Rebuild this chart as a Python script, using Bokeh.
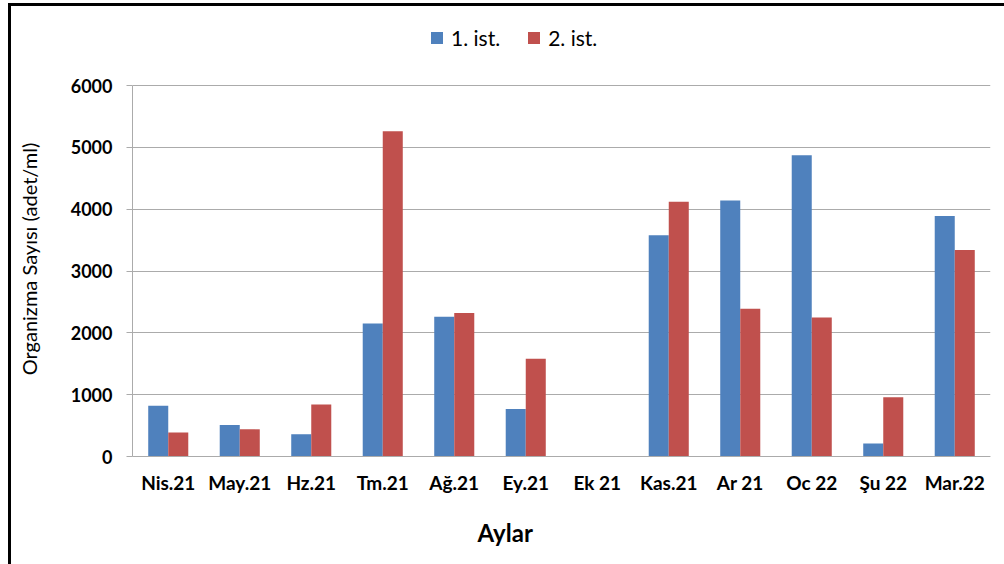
from bokeh.plotting import figure
from bokeh.models import (ColumnDataSource, FactorRange, Legend, LegendItem,
                          Title, SingleIntervalTicker, Range1d)
from bokeh.layouts import column
from bokeh.transform import dodge
from bokeh.embed import file_html
from bokeh.resources import INLINE

months = ["Nis.21", "May.21", "Hz.21", "Tm.21", "Ağ.21", "Ey.21", "Ek 21",
          "Kas.21", "Ar 21", "Oc 22", "Şu 22", "Mar.22"]
ist1 = [820, 510, 360, 2150, 2260, 770, 0, 3580, 4140, 4870, 210, 3890]
ist2 = [390, 440, 840, 5260, 2320, 1580, 0, 4120, 2390, 2250, 960, 3340]
series_names = ["1. ist.", "2. ist."]
y_max = 6000
y_step = 1000

BLUE = "#4F81BD"
RED = "#C0504D"
GRID = "#ABABAB"
FONT = "Lato"

# page layout (pixels)
OX, OY = 11, 6             # figure offset inside the bordered box
FRAME_LEFT, FRAME_RIGHT = 132, 990
AXIS_TOP, AXIS_BOTTOM = 85, 456   # pixel rows of y_max and 0
FRAME_TOP, FRAME_BOTTOM = 6, 511  # frame extends beyond the axis span
PAGE_W, PAGE_H = 1004, 564

px_per_unit = (AXIS_BOTTOM - AXIS_TOP) / y_max
y_start = -(FRAME_BOTTOM - AXIS_BOTTOM) / px_per_unit
y_end = (AXIS_BOTTOM - FRAME_TOP) / px_per_unit

src = ColumnDataSource(dict(month=months, ist1=ist1, ist2=ist2))

p = figure(width=PAGE_W - OX, height=PAGE_H - OY, output_backend="svg",
           toolbar_location=None,
           x_range=FactorRange(*months, range_padding=0),
           y_range=Range1d(y_start, y_end),
           min_border_left=FRAME_LEFT - OX, min_border_right=PAGE_W - FRAME_RIGHT,
           min_border_top=FRAME_TOP - OY, min_border_bottom=PAGE_H - FRAME_BOTTOM,
           background_fill_color="white", border_fill_color="white")
p.outline_line_color = None

r1 = p.vbar(x=dodge("month", -0.14, range=p.x_range), top="ist1", width=0.28,
            source=src, fill_color=BLUE, line_color=None)
r2 = p.vbar(x=dodge("month", 0.14, range=p.x_range), top="ist2", width=0.28,
            source=src, fill_color=RED, line_color=None)

# y axis
p.xgrid.grid_line_color = None
p.ygrid.grid_line_color = GRID
p.ygrid.grid_line_width = 1
p.ygrid.bounds = (0, y_max)
p.yaxis.bounds = (0, y_max)
p.yaxis.ticker = SingleIntervalTicker(interval=y_step)
p.yaxis.axis_line_color = GRID
p.yaxis.major_tick_line_color = GRID
p.yaxis.major_tick_out = 6
p.yaxis.major_tick_in = 0
p.yaxis.minor_tick_line_color = None
p.yaxis.major_label_text_font = FONT
p.yaxis.major_label_text_font_style = "bold"
p.yaxis.major_label_text_font_size = "18px"
p.yaxis.major_label_text_color = "black"
p.yaxis.major_label_standoff = 14
p.yaxis.axis_label = "Organizma Sayısı (adet/ml)"
p.yaxis.axis_label_text_font = FONT
p.yaxis.axis_label_text_font_style = "normal"
p.yaxis.axis_label_text_font_size = "20px"
p.yaxis.axis_label_text_color = "black"
p.yaxis.axis_label_standoff = 27

# x axis sits at y = 0 inside the (taller) frame
p.xaxis.fixed_location = 0
p.xaxis.axis_line_color = GRID
p.xaxis.major_tick_line_color = None
p.xaxis.minor_tick_line_color = None
p.xaxis.major_label_text_font = FONT
p.xaxis.major_label_text_font_style = "bold"
p.xaxis.major_label_text_font_size = "19px"
p.xaxis.major_label_text_color = "black"
p.xaxis.major_label_standoff = 8

# x axis title (off-centre as in the reference)
xt = Title(text="Aylar", align="left", offset=345, text_font=FONT,
           text_font_style="bold", text_font_size="24px", text_color="black",
           standoff=8)
p.add_layout(xt, "below")

# legend at the top
legend = Legend(items=[LegendItem(label=series_names[0], renderers=[r1]),
                       LegendItem(label=series_names[1], renderers=[r2])],
                orientation="horizontal",
                location=(429 - FRAME_LEFT, FRAME_BOTTOM - 50),
                glyph_width=15, glyph_height=15, label_standoff=7, spacing=26,
                label_height=20,
                padding=0, margin=0, border_line_color=None,
                background_fill_alpha=0,
                label_text_font=FONT, label_text_font_size="21px",
                label_text_color="black")
p.add_layout(legend, "center")

layout = column(p, margin=(3, 0, 0, 8),
                styles={"border-left": "3px solid black",
                        "border-top": "3px solid black"})

open("out.html", "w").write(file_html(layout, INLINE))
